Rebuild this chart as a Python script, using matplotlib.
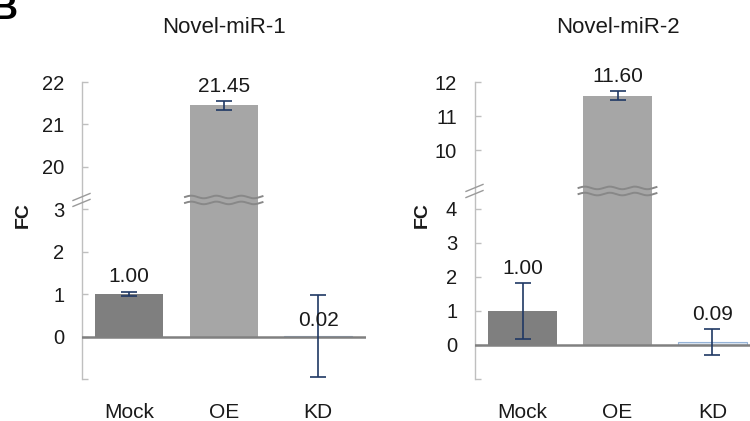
import numpy as np
import matplotlib
matplotlib.use("Agg")
import matplotlib.pyplot as plt

plt.rcParams['font.family'] = ['Liberation Sans', 'DejaVu Sans']

# ---------------- data ----------------
categories = ['Mock', 'OE', 'KD']
titles = ['Novel-miR-1', 'Novel-miR-2']

mir1_values = [1.00, 21.45, 0.02]
mir1_errors = [0.05, 0.10, 0.97]
mir1_labels = ['1.00', '21.45', '0.02']
mir1_ticks = [-1, 0, 1, 2, 3, 20, 21, 22]
mir1_ticklabels = ['', '0', '1', '2', '3', '20', '21', '22']

mir2_values = [1.00, 11.60, 0.09]
mir2_errors = [0.82, 0.13, 0.37]
mir2_labels = ['1.00', '11.60', '0.09']
mir2_ticks = [-1, 0, 1, 2, 3, 4, 10, 11, 12]
mir2_ticklabels = ['', '0', '1', '2', '3', '4', '10', '11', '12']

# ---------------- style ----------------
bar_colors = ['#7f7f7f', '#a6a6a6', '#dce6f2']
bar_edges = ['#7f7f7f', '#a6a6a6', '#95b3d7']
bar_lw = [0, 0, 0.8]
err_color = '#1f3864'
spine_color = '#bfbfbf'
zero_color = '#808080'
wave_color = '#888888'
text_color = '#1a1a1a'


def make_break(lo, hi, gap):
    k = gap / (hi - lo)

    def fwd(y):
        y = np.asarray(y, dtype=float)
        return np.where(y <= lo, y,
                        np.where(y >= hi, y - (hi - lo) + gap, lo + (y - lo) * k))

    def inv(t):
        t = np.asarray(t, dtype=float)
        return np.where(t <= lo, t,
                        np.where(t >= lo + gap, t + (hi - lo) - gap, lo + (t - lo) / k))
    return fwd, inv


fig = plt.figure(figsize=(7.5, 4.21), dpi=100)


def panel(rect, values, errors, labels, ticks, ticklabels, title, brk, ymax,
          label_on_err, ylab_x):
    ax = fig.add_axes(rect)
    lo, hi, gap = brk
    fwd, inv = make_break(lo, hi, gap)
    ax.set_yscale('function', functions=(fwd, inv))
    x = np.arange(len(categories))
    ax.bar(x, values, width=0.72, color=bar_colors, edgecolor=bar_edges,
           linewidth=bar_lw, zorder=2)
    ax.axhline(0, color=zero_color, lw=1.8, zorder=3)
    ax.errorbar(x, values, yerr=errors, fmt='none', ecolor=err_color,
                elinewidth=1.2, capsize=5.5, capthick=1.2, zorder=4)
    ax.set_xlim(-0.5, 2.5)
    ax.set_ylim(-1, ymax)

    for xi, v, e, lab, on_err in zip(x, values, errors, labels, label_on_err):
        anchor = v + e if on_err else v
        ax.annotate(lab, (xi, anchor), xytext=(0, 4), textcoords='offset points',
                    ha='center', va='bottom', fontsize=15, color=text_color,
                    annotation_clip=False, zorder=5)

    for s in ['top', 'right', 'bottom']:
        ax.spines[s].set_visible(False)
    ax.spines['left'].set_color(spine_color)
    ax.spines['left'].set_linewidth(1.0)
    ax.set_yticks(ticks)
    ax.set_yticklabels(ticklabels)
    ax.yaxis.set_minor_locator(matplotlib.ticker.NullLocator())
    ax.tick_params(axis='y', direction='in', length=4.5, width=1.0,
                   color=spine_color, pad=12.8, labelsize=14.5, labelcolor=text_color)
    ax.set_xticks(x)
    ax.set_xticklabels(categories)
    ax.tick_params(axis='x', length=0, pad=17.5, labelsize=15, labelcolor=text_color)

    ax.set_title(title, fontsize=16, pad=35, color=text_color)
    ax.set_ylabel('FC', fontsize=14, fontweight='bold', va='center', color=text_color)
    ax.yaxis.set_label_coords(ylab_x, 0.552)

    # break decorations
    t0, t1 = fwd(-1), fwd(ymax)
    f_lo = float((fwd(lo) - t0) / (t1 - t0))
    f_hi = float((fwd(hi) - t0) / (t1 - t0))
    bb = ax.get_position()
    w_px = bb.width * 750
    h_px = bb.height * 421
    # slanted marks on spine
    for f in (f_lo, f_hi):
        ax.plot([-9 / w_px, 8 / w_px], [f - 3.5 / h_px, f + 3.5 / h_px],
                transform=ax.transAxes, color='#9a9a9a', lw=1.0,
                clip_on=False, zorder=6)
    # wavy lines across the OE bar
    xs = np.linspace(1 - 0.36 - 0.05, 1 + 0.36 + 0.05, 200)
    period = 25 / (w_px / 3.0)
    amp = 1.3 / h_px
    for f in (f_lo, f_hi):
        ax.plot(xs, f + amp * np.sin(2 * np.pi * (xs - xs[0]) / period),
                transform=ax.get_xaxis_transform(), color=wave_color, lw=1.4,
                clip_on=False, zorder=6)
    return ax


panel([82 / 750, 42 / 421, 283.5 / 750, 297 / 421],
      mir1_values, mir1_errors, mir1_labels, mir1_ticks, mir1_ticklabels,
      titles[0], (3.15, 19.29, 0.14), 22, [True, True, False], -0.208)

panel([475 / 750, 42 / 421, 285 / 750, 297 / 421],
      mir2_values, mir2_errors, mir2_labels, mir2_ticks, mir2_ticklabels,
      titles[1], (4.44, 8.885, 0.18), 12, [True, True, True], -0.186)

fig.text(18 / 750, 1 - 19 / 421, 'B', fontsize=26, fontweight='bold',
         ha='right', va='baseline', color='black')

fig.savefig('out.png', dpi=100)
